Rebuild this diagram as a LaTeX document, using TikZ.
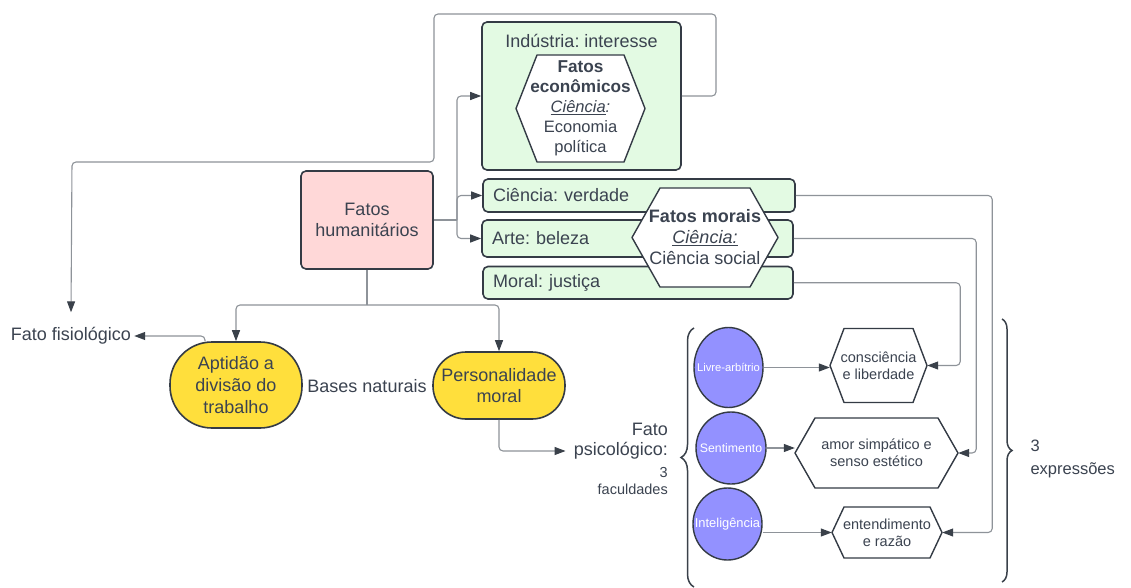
\documentclass[tikz,border=0pt]{standalone}
\usepackage{fontspec}
\setmainfont{Liberation Sans}
\frenchspacing
\usetikzlibrary{arrows.meta,decorations.pathreplacing,shapes.geometric,calc}
\definecolor{txt}{HTML}{3B4350}
\definecolor{edgec}{HTML}{343B45}
\definecolor{lnc}{HTML}{8E9399}
\definecolor{arc}{HTML}{3A414A}
\definecolor{gfill}{HTML}{E3FAE3}
\definecolor{pfill}{HTML}{FFD8D8}
\definecolor{yfill}{HTML}{FFDF3C}
\definecolor{vfill}{HTML}{9391FF}
\newcommand\fs[2]{\fontsize{#1}{#2}\selectfont}
\tikzset{
  every node/.style={text=txt, font=\fs{18}{21.5}},
  box/.style={draw=edgec, line width=1.6pt, rounded corners=5pt, align=center, inner sep=0pt},
  gbox/.style={box, fill=gfill},
  greenrow/.style={gbox, align=left},
  stadium/.style={draw=edgec, line width=1.6pt, fill=yfill, align=center, inner sep=0pt},
  faculty/.style={ellipse, draw=edgec, line width=1.4pt, fill=vfill, inner sep=0pt, text=white},
  hexln/.style={draw=edgec, line width=1.4pt, fill=white, line join=round},
  conn/.style={draw=lnc, line width=1.1pt, rounded corners=4pt,
    -{Triangle[length=11pt,width=8pt,color=arc]}},
  plainconn/.style={draw=lnc, line width=1.1pt, rounded corners=4pt},
  bracestyle/.style={draw=arc, line width=1.5pt, decorate},
}
% #1 name, #2 cx, #3 cy, #4 half width, #5 half height, #6 inset, #7 font, #8 text
\newcommand\hexnode[8]{%
  \filldraw[hexln] (#2-#4,#3) -- (#2-#4+#6,#3-#5) -- (#2+#4-#6,#3-#5) -- (#2+#4,#3)
    -- (#2+#4-#6,#3+#5) -- (#2-#4+#6,#3+#5) -- cycle;
  \node[inner sep=0pt, minimum width=#4pt*2, minimum height=#5pt*2, align=center, font=#7] (#1) at (#2,#3) {#8};}
\begin{document}
\begin{tikzpicture}[x=1pt,y=-1pt]
\fill[white] (0,0) rectangle (1131,588);
\useasboundingbox (0,0) rectangle (1131,588);

% top green box
\node[gbox, minimum width=199pt, minimum height=148pt] (ind) at (581.5,96) {};
\node (indt) at (581.5,41) {Indústria: interesse};
\hexnode{econ}{580.5}{108.5}{64.5}{53.5}{21}{\fs{16.5}{20}}{{\fs{17.2}{20}\bfseries Fatos}\\{\fs{17.2}{20}\bfseries econômicos}\\
  \underline{\textit{Ciência}}\textit{:}\\Economia\\política}

% green rows
\node[greenrow, minimum width=312pt, minimum height=33pt, text width=292pt] (cie) at (639,195.5) {Ciência: verdade};
\node[greenrow, minimum width=311pt, minimum height=37pt, text width=291pt] (arte) at (637.5,238.5) {Arte: beleza};
\node[greenrow, minimum width=310pt, minimum height=32.5pt, text width=290pt] (moral) at (638,282.75) {Moral: justiça};
\hexnode{morais}{705}{237.5}{73}{49.5}{28}{\fs{18}{21}}{\textbf{Fatos morais}\\
  \underline{\textit{Ciência:}}\\Ciência social}

% main boxes
\node[box, fill=pfill, minimum width=132pt, minimum height=98pt] (hum) at (367,220) {Fatos\\humanitários};
\node[stadium, rounded corners=42pt, minimum width=132pt, minimum height=86pt, font=\fs{18}{22}] (apt) at (236,385) {Aptidão a\\divisão do\\trabalho};
\node[stadium, rounded corners=33pt, minimum width=132pt, minimum height=67pt, font=\fs{18}{21}] (pers) at (499,385.5) {Personalidade\\moral};
\node (bases) at (367,386) {Bases naturais};
\node[inner sep=3pt] (ff) at (71,336) {Fato fisiológico};

% psychological fact
\node[anchor=east, inner sep=0pt] (fpa) at (668,429) {Fato};
\node[anchor=east, inner sep=0pt] (fp) at (668,451) {psicológico:};
\node[anchor=north east, align=right, inner sep=0pt, font=\fs{14.5}{17}] (fpb) at (668,467) {3\\faculdades};

% faculties
\node[faculty, minimum width=69pt, minimum height=80pt, font=\fs{11.2}{13}] (livre) at (728.5,367.5) {\makebox[0pt]{Livre-arbítrio}};
\node[faculty, minimum width=70pt, minimum height=72pt, font=\fs{12.3}{14}] (sent) at (731,448) {\makebox[0pt]{Sentimento}};
\node[faculty, minimum width=69pt, minimum height=72pt, font=\fs{12.9}{15}] (intel) at (727.5,524) {\makebox[0pt]{Inteligência}};

% expressions
\hexnode{consc}{878.5}{365.5}{48.5}{37}{14}{\fs{14.5}{17}}{consciência\\e liberdade}
\hexnode{amor}{876.5}{453}{81.5}{35}{20}{\fs{14.5}{17}}{amor simpático e\\senso estético}
\hexnode{entend}{887}{532.5}{55}{25.5}{12}{\fs{14.5}{17}}{entendimento\\e razão}

\node[align=left, anchor=west, font=\fs{16.5}{23}] (expr) at (1027,459) {3\\expressões};

% braces
\draw[bracestyle, decoration={brace, amplitude=13pt}] (694,587) -- (694,328);
\draw[bracestyle, decoration={brace, amplitude=10pt}] (1002,319) -- (1002,582);

% connectors
\coordinate (hj) at (457,220);
\draw[plainconn] (hum.east) -- (hj);
\draw[conn] (hj) |- (ind.west);
\draw[conn] (hj) |- (cie.west);
\draw[conn] (hj) |- (arte.west);

\coordinate (hb) at (367,305);
\draw[plainconn] (hum.south) -- (hb);
\draw[conn] (hb) -| (apt.north);
\draw[conn] (hb) -| (pers.north);

\draw[conn] (ind.east) -- (716,96) -- (716,14) -- (434,14) -- (434,162) -- (72,162) -- ([yshift=12pt]ff.north);
\draw[conn] ([xshift=-31pt]apt.north) |- (ff.east);
\draw[conn, shorten >=8pt] (pers.south) |- (fp.west);

\draw[conn] (livre.east) -- (livre.east -| consc.west);
\draw[conn] (sent.east) -- (sent.east -| amor.west);
\draw[conn] (intel.east |- entend.west) -- (entend.west);

\draw[conn] (cie.east) -| ([xshift=50pt]entend.east) -- (entend.east);
\draw[conn] (arte.east) -| ([xshift=18pt]amor.east) -- (amor.east);
\draw[conn] (moral.east) -| ([xshift=33pt]consc.east) -- (consc.east);
\end{tikzpicture}
\end{document}
